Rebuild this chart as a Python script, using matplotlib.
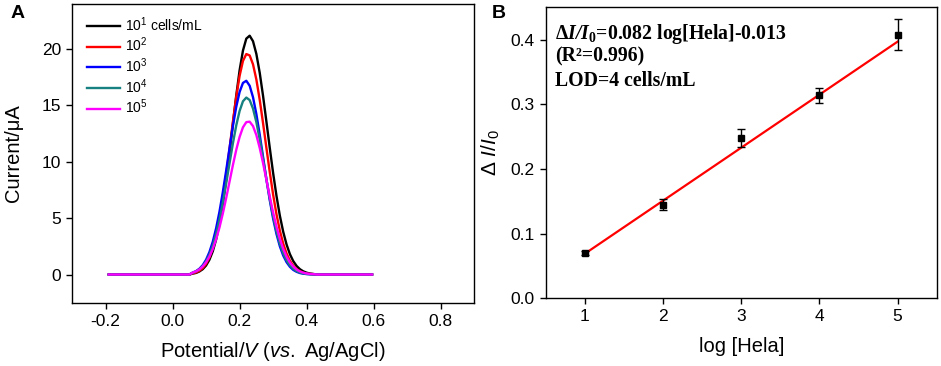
import numpy as np
import matplotlib
matplotlib.use('Agg')
import matplotlib.pyplot as plt

plt.rcParams['font.family'] = ['Liberation Sans', 'DejaVu Sans']
plt.rcParams['mathtext.fontset'] = 'custom'
plt.rcParams['mathtext.rm'] = 'Liberation Sans'
plt.rcParams['mathtext.it'] = 'Liberation Sans:italic'
plt.rcParams['mathtext.bf'] = 'Liberation Serif:bold'
plt.rcParams['mathtext.bfit'] = 'Liberation Serif:bold:italic'

# Panel A: DPV curves (potential in V, current in uA)
potential = [-0.19, 0.05,
             0.06, 0.07, 0.08, 0.09, 0.10, 0.11, 0.12, 0.13, 0.14, 0.15,
             0.16, 0.17, 0.18, 0.19, 0.20, 0.21, 0.22, 0.23, 0.24, 0.25,
             0.26, 0.27, 0.28, 0.29, 0.30, 0.31, 0.32, 0.33, 0.34, 0.35,
             0.36, 0.37, 0.38, 0.39, 0.40, 0.41, 0.42,
             0.43, 0.595]

cur_1e1 = [0, 0,
           0.08, 0.14, 0.27, 0.47, 0.80, 1.31, 2.06, 3.11, 4.51, 6.28,
           8.41, 10.82, 13.37, 15.88, 18.12, 19.87, 20.93, 21.19, 20.70, 19.57,
           17.90, 15.84, 13.56, 11.23, 9.00, 6.98, 5.23, 3.80, 2.67, 1.81,
           1.19, 0.76, 0.47, 0.28, 0.16, 0.09, 0.05,
           0, 0]
cur_1e2 = [0, 0,
           0.10, 0.18, 0.33, 0.57, 0.95, 1.52, 2.35, 3.47, 4.94, 6.75,
           8.86, 11.18, 13.54, 15.76, 17.63, 18.95, 19.56, 19.44, 18.65, 17.30,
           15.50, 13.42, 11.23, 9.08, 7.09, 5.35, 3.90, 2.75, 1.87, 1.23,
           0.78, 0.48, 0.29, 0.16, 0.09, 0.05, 0.03,
           0, 0]
cur_1e3 = [0, 0,
           0.17, 0.30, 0.51, 0.83, 1.31, 1.99, 2.91, 4.11, 5.58, 7.32,
           9.23, 11.23, 13.17, 14.88, 16.20, 17.00, 17.19, 16.75, 15.73, 14.23,
           12.41, 10.43, 8.45, 6.59, 4.96, 3.60, 2.51, 1.69, 1.10, 0.69,
           0.41, 0.24, 0.13, 0.07, 0.04, 0.02, 0.01,
           0, 0]
cur_1e4 = [0, 0,
           0.16, 0.27, 0.46, 0.74, 1.16, 1.75, 2.55, 3.60, 4.88, 6.40,
           8.10, 9.88, 11.64, 13.23, 14.51, 15.37, 15.70, 15.48, 14.72, 13.52,
           11.98, 10.24, 8.45, 6.73, 5.17, 3.83, 2.74, 1.89, 1.26, 0.81,
           0.50, 0.30, 0.17, 0.10, 0.05, 0.03, 0.01,
           0, 0]
cur_1e5 = [0, 0,
           0.17, 0.28, 0.45, 0.71, 1.08, 1.59, 2.27, 3.13, 4.18, 5.42,
           6.79, 8.25, 9.71, 11.06, 12.21, 13.06, 13.52, 13.56, 13.17, 12.37,
           11.23, 9.88, 8.40, 6.91, 5.50, 4.24, 3.16, 2.28, 1.59, 1.07,
           0.70, 0.44, 0.27, 0.16, 0.09, 0.05, 0.03,
           0, 0]

curves = [cur_1e1, cur_1e2, cur_1e3, cur_1e4, cur_1e5]
curve_labels = [r'10$^1$ cells/mL', r'10$^2$', r'10$^3$', r'10$^4$', r'10$^5$']
curve_colors = ['black', '#ff0000', '#0000ff', '#178080', '#ff00ff']

# Panel B: calibration points
log_hela = [1, 2, 3, 4, 5]
ratio = [0.0705, 0.1447, 0.248, 0.314, 0.4077]
ratio_err = [0.003, 0.0088, 0.0134, 0.0118, 0.0237]
slope = 0.082
intercept = -0.013

fig = plt.figure(figsize=(9.41, 3.66), dpi=100)

def style_axes(ax):
    for sp in ax.spines.values():
        sp.set_linewidth(1.0)
    ax.tick_params(direction='out', length=4, width=1.0, labelsize=12.5,
                   top=False, right=False, pad=4)

# ---- A ----
axA = fig.add_axes([0.0765, 0.173, 0.4275, 0.816])
for y, lab, col in zip(curves, curve_labels, curve_colors):
    axA.plot(potential, y, color=col, lw=1.7, label=lab)
axA.set_xlim(-0.3, 0.9)
axA.set_ylim(-2.5, 24)
axA.set_xticks([-0.2, 0.0, 0.2, 0.4, 0.6, 0.8])
axA.set_xticklabels(['-0.2', '0.0', '0.2', '0.4', '0.6', '0.8'])
axA.set_yticks([0, 5, 10, 15, 20])
style_axes(axA)
axA.set_xlabel(r'Potential/$\mathit{V}$ ($\mathit{vs.}$ Ag/AgCl)', fontsize=14.5, labelpad=8)
axA.set_ylabel('Current/μA', fontsize=14.5, labelpad=13)
axA.legend(loc='upper left', bbox_to_anchor=(0.01, 1.0), frameon=False,
           fontsize=10, handlelength=2.4, handletextpad=0.3,
           labelspacing=0.15, borderpad=0.3)
fig.text(0.011, 0.985, 'A', fontsize=14, fontweight='bold', va='top', ha='left')

# ---- B ----
axB = fig.add_axes([0.58, 0.185, 0.4155, 0.795])
xfit = np.array([log_hela[0], log_hela[-1]])
axB.plot(xfit, slope * xfit + intercept, color='#ff0000', lw=1.6, zorder=2)
axB.errorbar(log_hela, ratio, yerr=ratio_err, fmt='s', color='black',
             ms=4, capsize=3, elinewidth=1, capthick=1, zorder=3)
axB.set_xlim(0.5, 5.5)
axB.set_ylim(0, 0.45)
axB.set_xticks([1, 2, 3, 4, 5])
axB.set_yticks([0.0, 0.1, 0.2, 0.3, 0.4])
axB.set_yticklabels(['0.0', '0.1', '0.2', '0.3', '0.4'])
style_axes(axB)
axB.set_xlabel('log [Hela]', fontsize=14.5, labelpad=9)
axB.set_ylabel(r'Δ $\mathit{I/I}_0$', fontsize=15, labelpad=6)

serif = dict(family='Liberation Serif', fontweight='bold', fontsize=14.2,
             transform=axB.transAxes, ha='left', va='baseline')
axB.text(0.024, 0.89, r'$\mathbf{\Delta}\mathbfit{I/I}_\mathbf{0}$=0.082 log[Hela]-0.013', **serif)
axB.text(0.024, 0.815, '(R²=0.996)', **serif)
axB.text(0.024, 0.73, 'LOD=4 cells/mL', **serif)
fig.text(0.523, 0.985, 'B', fontsize=14, fontweight='bold', va='top', ha='left')

fig.savefig('out.png', dpi=100)
